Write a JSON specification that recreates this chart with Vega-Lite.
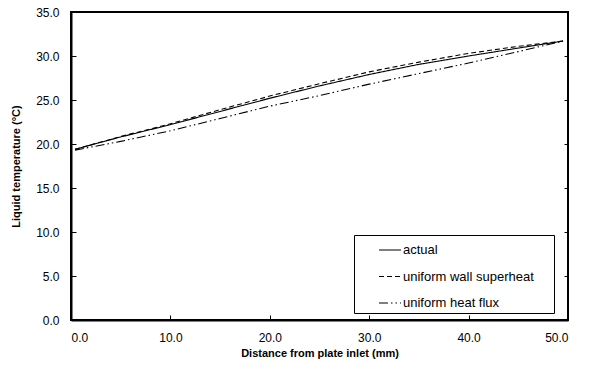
{
  "$schema": "https://vega.github.io/schema/vega-lite/v6.json",
  "width": 497,
  "height": 308,
  "autosize": "none",
  "padding": {"left": 71, "top": 12, "right": 22, "bottom": 50},
  "background": "white",
  "config": {
    "font": "Liberation Sans",
    "view": {"stroke": "black", "strokeWidth": 2},
    "axis": {
      "labelFont": "Liberation Sans",
      "labelFontSize": 12,
      "labelColor": "black",
      "titleFont": "Liberation Sans",
      "titleFontSize": 11,
      "titleFontWeight": "bold",
      "titleColor": "black",
      "domainColor": "black",
      "domainWidth": 2,
      "tickColor": "black",
      "tickWidth": 1,
      "grid": false
    }
  },
  "data": {
    "values": [
      {"x": 0.4, "T": 19.4, "series": "actual"},
      {"x": 5, "T": 20.8, "series": "actual"},
      {"x": 10, "T": 22.2, "series": "actual"},
      {"x": 15, "T": 23.7, "series": "actual"},
      {"x": 20, "T": 25.2, "series": "actual"},
      {"x": 25, "T": 26.6, "series": "actual"},
      {"x": 30, "T": 27.9, "series": "actual"},
      {"x": 35, "T": 29.05, "series": "actual"},
      {"x": 40, "T": 30.0, "series": "actual"},
      {"x": 45, "T": 30.9, "series": "actual"},
      {"x": 49.5, "T": 31.7, "series": "actual"},
      {"x": 0.4, "T": 19.4, "series": "uniform wall superheat"},
      {"x": 5, "T": 20.85, "series": "uniform wall superheat"},
      {"x": 10, "T": 22.3, "series": "uniform wall superheat"},
      {"x": 15, "T": 23.9, "series": "uniform wall superheat"},
      {"x": 20, "T": 25.45, "series": "uniform wall superheat"},
      {"x": 25, "T": 26.85, "series": "uniform wall superheat"},
      {"x": 30, "T": 28.2, "series": "uniform wall superheat"},
      {"x": 35, "T": 29.3, "series": "uniform wall superheat"},
      {"x": 40, "T": 30.3, "series": "uniform wall superheat"},
      {"x": 45, "T": 31.1, "series": "uniform wall superheat"},
      {"x": 49.5, "T": 31.7, "series": "uniform wall superheat"},
      {"x": 0.4, "T": 19.3, "series": "uniform heat flux"},
      {"x": 5, "T": 20.3, "series": "uniform heat flux"},
      {"x": 10, "T": 21.5, "series": "uniform heat flux"},
      {"x": 15, "T": 22.9, "series": "uniform heat flux"},
      {"x": 20, "T": 24.3, "series": "uniform heat flux"},
      {"x": 25, "T": 25.5, "series": "uniform heat flux"},
      {"x": 30, "T": 26.8, "series": "uniform heat flux"},
      {"x": 35, "T": 28.0, "series": "uniform heat flux"},
      {"x": 40, "T": 29.2, "series": "uniform heat flux"},
      {"x": 45, "T": 30.5, "series": "uniform heat flux"},
      {"x": 49.5, "T": 31.7, "series": "uniform heat flux"}
    ]
  },
  "layer": [
    {
      "mark": {"type": "line", "color": "black", "strokeWidth": 1.1},
      "encoding": {
        "x": {
          "field": "x", "type": "quantitative",
          "scale": {"domain": [0, 50], "nice": false},
          "axis": {"values": [0, 10, 20, 30, 40, 50], "format": ".1f", "tickSize": -5, "labelPadding": 17, "title": "Distance from plate inlet (mm)", "titlePadding": 4}
        },
        "y": {
          "field": "T", "type": "quantitative",
          "scale": {"domain": [0, 35], "nice": false},
          "axis": {"values": [0, 5, 10, 15, 20, 25, 30, 35], "format": ".1f", "tickSize": -5, "labelPadding": 17, "title": "Liquid temperature (°C)", "titlePadding": 14}
        },
        "strokeDash": {
          "field": "series", "type": "nominal",
          "scale": {
            "domain": ["actual", "uniform wall superheat", "uniform heat flux"],
            "range": [[1, 0], [5, 3], [9, 3, 1.5, 3, 1.5, 3]]
          },
          "legend": {
            "title": " ",
            "titleOrient": "right",
            "titlePadding": 17,
            "titleFontSize": 4,
            "orient": "none",
            "legendX": 283,
            "legendY": 223,
            "symbolType": "stroke",
            "symbolStrokeColor": "black",
            "symbolStrokeWidth": 1.2,
            "symbolSize": 484,
            "labelFont": "Liberation Sans",
            "labelFontSize": 13,
            "labelColor": "black",
            "labelOffset": 1,
            "rowPadding": 7.5,
            "padding": 3,
            "symbolOffset": 21,
            "strokeColor": "black",
            "fillColor": "white"
          }
        }
      }
    },
    {
      "mark": {"type": "line", "opacity": 0},
      "encoding": {
        "x": {"field": "x", "type": "quantitative", "scale": {"domain": [0, 50], "nice": false}},
        "y": {
          "field": "T", "type": "quantitative",
          "scale": {"domain": [0, 35], "nice": false},
          "axis": {"orient": "right", "values": [0, 5, 10, 15, 20, 25, 30, 35], "labels": false, "title": null, "domain": false, "tickSize": -4}
        }
      }
    }
  ],
  "resolve": {"axis": {"y": "independent"}}
}
